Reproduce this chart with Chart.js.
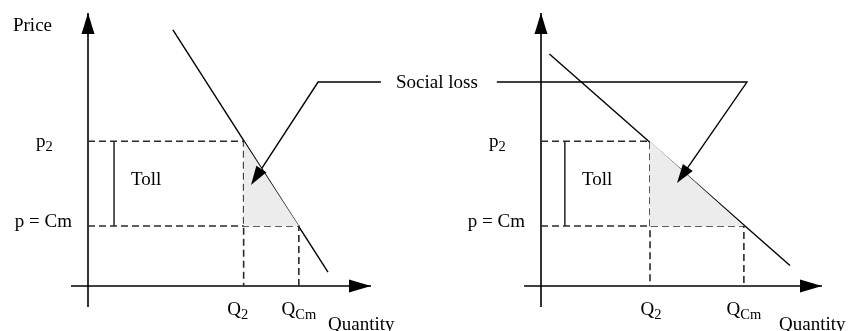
<!DOCTYPE html>
<html>
<head>
<meta charset="utf-8">
<script src="https://cdn.jsdelivr.net/npm/chart.js@4.4.1/dist/chart.umd.min.js"></script>
<style>
  body { margin: 0; background: #fff; }
  #wrap { position: relative; width: 849px; height: 331px; }
  canvas { position: absolute; top: 0; }
  #left { left: 0; }
  #right { left: 440px; }
</style>
</head>
<body>
<div id="wrap">
  <canvas id="left" width="500" height="331"></canvas>
  <canvas id="right" width="409" height="331"></canvas>
</div>
<script>
// values, both axes run 0..10 in each panel
var priceLevels = [5.3, 2.2];            // p2, p = Cm
var priceLabels = ['p', 'p = Cm'];
var priceSubs = ['2', ''];
var quantityLabels = ['Q', 'Q'];
var quantitySubs = ['2', 'Cm'];
var leftQuantities = [5.5, 7.45];        // Q2, QCm under the steep demand
var rightQuantities = [3.88, 7.22];      // Q2, QCm under the flat demand
var leftDemandQ = [3.0, 8.48];
var leftDemandP = [9.38, 0.51];
var rightDemandQ = [0.3, 8.86];
var rightDemandP = [8.5, 0.75];

var FONT = '"Liberation Serif", "Times New Roman", serif';

var panels = [
  {
    id: 'left', q: leftQuantities, dq: leftDemandQ, dp: leftDemandP,
    padding: { left: 88, right: 129, top: 13, bottom: 45 },
    toll: 0.92, q2Shift: -6,
    leader: [[10.35, 7.47], [8.13, 7.47], [5.76, 3.7]],
    price: true, lossText: true
  },
  {
    id: 'right', q: rightQuantities, dq: rightDemandQ, dp: rightDemandP,
    padding: { left: 101, right: 27, top: 13, bottom: 45 },
    toll: 0.85, q2Shift: 1,
    leader: [[-1.57, 7.47], [7.33, 7.47], [4.84, 3.77]],
    price: false, lossText: false
  }
];

function line(pts, opts) {
  return Object.assign({
    data: pts.map(function (p) { return { x: p[0], y: p[1] }; }),
    showLine: true, pointRadius: 0, borderColor: '#000', borderWidth: 1.3,
    clip: false, fill: false, tension: 0
  }, opts || {});
}

function arrowHead(ctx, x0, y0, x1, y1, len, half) {
  var a = Math.atan2(y1 - y0, x1 - x0);
  var bx = x1 - len * Math.cos(a), by = y1 - len * Math.sin(a);
  ctx.beginPath();
  ctx.moveTo(x1, y1);
  ctx.lineTo(bx + half * Math.sin(a), by - half * Math.cos(a));
  ctx.lineTo(bx - half * Math.sin(a), by + half * Math.cos(a));
  ctx.closePath();
  ctx.fill();
}

// text with an optional subscript, align = left | center | right
function subText(ctx, main, sub, x, y, align) {
  ctx.font = '19px ' + FONT;
  var w1 = ctx.measureText(main).width;
  ctx.font = '14.5px ' + FONT;
  var w2 = sub ? ctx.measureText(sub).width : 0;
  var w = w1 + w2;
  var sx = align === 'center' ? x - w / 2 : (align === 'right' ? x - w : x);
  ctx.textAlign = 'left';
  ctx.font = '19px ' + FONT;
  ctx.fillText(main, sx, y);
  if (sub) {
    ctx.font = '14.5px ' + FONT;
    ctx.fillText(sub, sx + w1, y + 4);
  }
}

panels.forEach(function (pn) {
  var p2 = priceLevels[0], cm = priceLevels[1];
  var q2 = pn.q[0], qcm = pn.q[1];
  var dash = { borderDash: [7, 4], borderColor: '#2a2a2a', borderWidth: 1.6 };

  var datasets = [
    line([[q2, p2], [qcm, cm]], { borderWidth: 0, borderColor: 'rgba(0,0,0,0)', fill: { value: cm }, backgroundColor: '#ececec' }),
    line([[0, p2], [q2, p2], [q2, 0]], dash),
    line([[0, cm], [qcm, cm], [qcm, 0]], dash),
    line([[pn.toll, p2], [pn.toll, cm]], { borderWidth: 1.3 }),
    line([[pn.dq[0], pn.dp[0]], [pn.dq[1], pn.dp[1]]], { borderWidth: 1.4 }),
    line([[0, -0.77], [0, 10]], { borderWidth: 1.6 }),
    line([[-0.6, 0], [10, 0]], { borderWidth: 1.6 }),
    line(pn.leader, { borderWidth: 1.4 })
  ];

  var decor = {
    id: 'decor',
    afterDatasetsDraw: function (chart) {
      var ctx = chart.ctx, xs = chart.scales.x, ys = chart.scales.y;
      var X = function (v) { return xs.getPixelForValue(v); };
      var Y = function (v) { return ys.getPixelForValue(v); };
      ctx.save();
      ctx.fillStyle = '#000';
      arrowHead(ctx, X(0), Y(0), X(0), Y(10), 21, 6.5);
      arrowHead(ctx, X(0), Y(0), X(10), Y(0), 22, 6.5);
      var l = pn.leader;
      arrowHead(ctx, X(l[1][0]), Y(l[1][1]), X(l[2][0]), Y(l[2][1]), 19, 6);

      ctx.fillStyle = '#000';
      ctx.textBaseline = 'alphabetic';
      var ax = X(0);
      if (pn.price) subText(ctx, 'Price', '', ax - 36, Y(10) + 18, 'right');
      subText(ctx, priceLabels[0], priceSubs[0], ax - 52, Y(p2) + 6, 'left');
      subText(ctx, priceLabels[1], priceSubs[1], ax - 16, Y(cm) + 1, 'right');
      subText(ctx, 'Toll', '', X(pn.toll) + 17, (Y(p2) + Y(cm)) / 2 + 1, 'left');
      subText(ctx, quantityLabels[0], quantitySubs[0], X(q2) + pn.q2Shift, 315, 'center');
      subText(ctx, quantityLabels[1], quantitySubs[1], X(qcm), 315, 'center');
      subText(ctx, 'Quantity', '', X(10) - 43, 330, 'left');
      if (pn.lossText) subText(ctx, 'Social loss', '', X(l[0][0]) + 56, Y(l[0][1]) + 6, 'center');
      ctx.restore();
    }
  };

  new Chart(document.getElementById(pn.id).getContext('2d'), {
    type: 'scatter',
    data: { datasets: datasets },
    options: {
      responsive: false,
      animation: false,
      devicePixelRatio: 1,
      layout: { padding: pn.padding },
      plugins: { legend: { display: false }, tooltip: { enabled: false } },
      scales: {
        x: { type: 'linear', min: 0, max: 10, display: false },
        y: { type: 'linear', min: 0, max: 10, display: false }
      }
    },
    plugins: [decor]
  });
});
</script>
</body>
</html>
